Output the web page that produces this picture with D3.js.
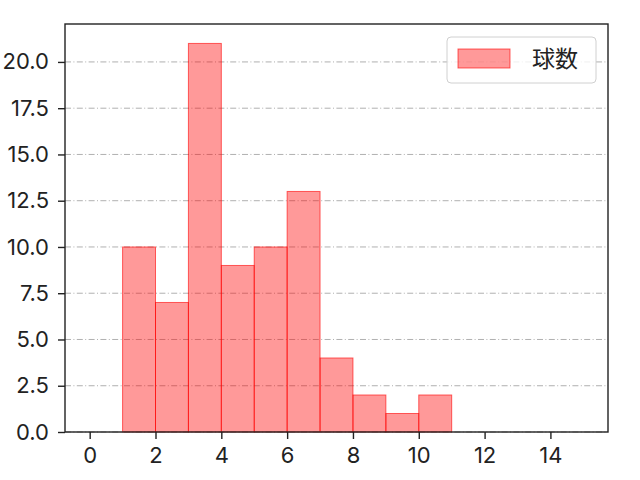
<!DOCTYPE html>
<html>
<head>
<meta charset="utf-8">
<script src="https://cdn.jsdelivr.net/npm/d3@7"></script>
<style>
  body { margin: 0; background: #fff; }
  text { font-family: Inter, sans-serif; }
</style>
</head>
<body>
<svg id="chart"></svg>
<script>
// histogram bins (left edge) and counts
const binStarts = [1, 2, 3, 4, 5, 6, 7, 8, 9, 10];
const counts = [10, 7, 21, 9, 10, 13, 4, 2, 1, 2];
const xTicks = [0, 2, 4, 6, 8, 10, 12, 14];
const yTicks = [0, 2.5, 5, 7.5, 10, 12.5, 15, 17.5, 20];
const seriesName = "球数";

const width = 640, height = 480;
const margin = {left: 65, right: 32, top: 24, bottom: 48};
const tickFont = "Inter, sans-serif";
const cjkFont = "'Noto Sans CJK JP', sans-serif";

const svg = d3.select("#chart")
  .attr("width", width)
  .attr("height", height);

const x = d3.scaleLinear().domain([-0.75, 15.75]).range([margin.left, width - margin.right]);
const y = d3.scaleLinear().domain([0, 22.05]).range([height - margin.bottom, margin.top]);

// grid lines (behind bars)
svg.append("g")
  .selectAll("line")
  .data(yTicks)
  .join("line")
  .attr("x1", margin.left)
  .attr("x2", width - margin.right)
  .attr("y1", d => y(d))
  .attr("y2", d => y(d))
  .attr("stroke", "#b0b0b0")
  .attr("stroke-width", 1)
  .attr("stroke-dasharray", "6,2.4,1,2.4");

// bars
svg.append("g")
  .selectAll("rect")
  .data(binStarts.map((b, i) => ({b, v: counts[i]})))
  .join("rect")
  .attr("x", d => x(d.b))
  .attr("width", d => x(d.b + 1) - x(d.b))
  .attr("y", d => y(d.v))
  .attr("height", d => y(0) - y(d.v))
  .attr("fill", "rgba(255,0,0,0.4)")
  .attr("stroke", "rgba(255,0,0,0.6)")
  .attr("stroke-width", 1);

// axes
const xAxis = svg.append("g")
  .attr("transform", `translate(0,${height - margin.bottom})`)
  .call(d3.axisBottom(x).tickValues(xTicks).tickSize(7).tickPadding(8).tickFormat(d3.format("d")));
const yAxis = svg.append("g")
  .attr("transform", `translate(${margin.left},0)`)
  .call(d3.axisLeft(y).tickValues(yTicks).tickSize(7).tickPadding(9).tickFormat(d3.format(".1f")));

[xAxis, yAxis].forEach(a => {
  a.select(".domain").remove();
  a.selectAll(".tick line").attr("stroke", "#222").attr("stroke-width", 1.4);
  a.selectAll(".tick text").attr("font-size", 22).attr("fill", "#222")
    .style("font-family", tickFont);
});

// frame
svg.append("rect")
  .attr("x", margin.left)
  .attr("y", margin.top)
  .attr("width", width - margin.left - margin.right)
  .attr("height", height - margin.top - margin.bottom)
  .attr("fill", "none")
  .attr("stroke", "#222")
  .attr("stroke-width", 1.4);

// legend
const lg = svg.append("g").attr("transform", "translate(447,37)");
lg.append("rect")
  .attr("width", 149).attr("height", 46).attr("rx", 4)
  .attr("fill", "rgba(255,255,255,0.8)")
  .attr("stroke", "#d0d0d0");
lg.append("rect")
  .attr("x", 11).attr("y", 12).attr("width", 52).attr("height", 19)
  .attr("fill", "rgba(255,0,0,0.4)")
  .attr("stroke", "rgba(255,0,0,0.6)");
lg.append("text")
  .attr("x", 85).attr("y", 30)
  .attr("font-size", 23)
  .style("font-family", cjkFont)
  .attr("fill", "#222")
  .text(seriesName);
</script>
</body>
</html>
